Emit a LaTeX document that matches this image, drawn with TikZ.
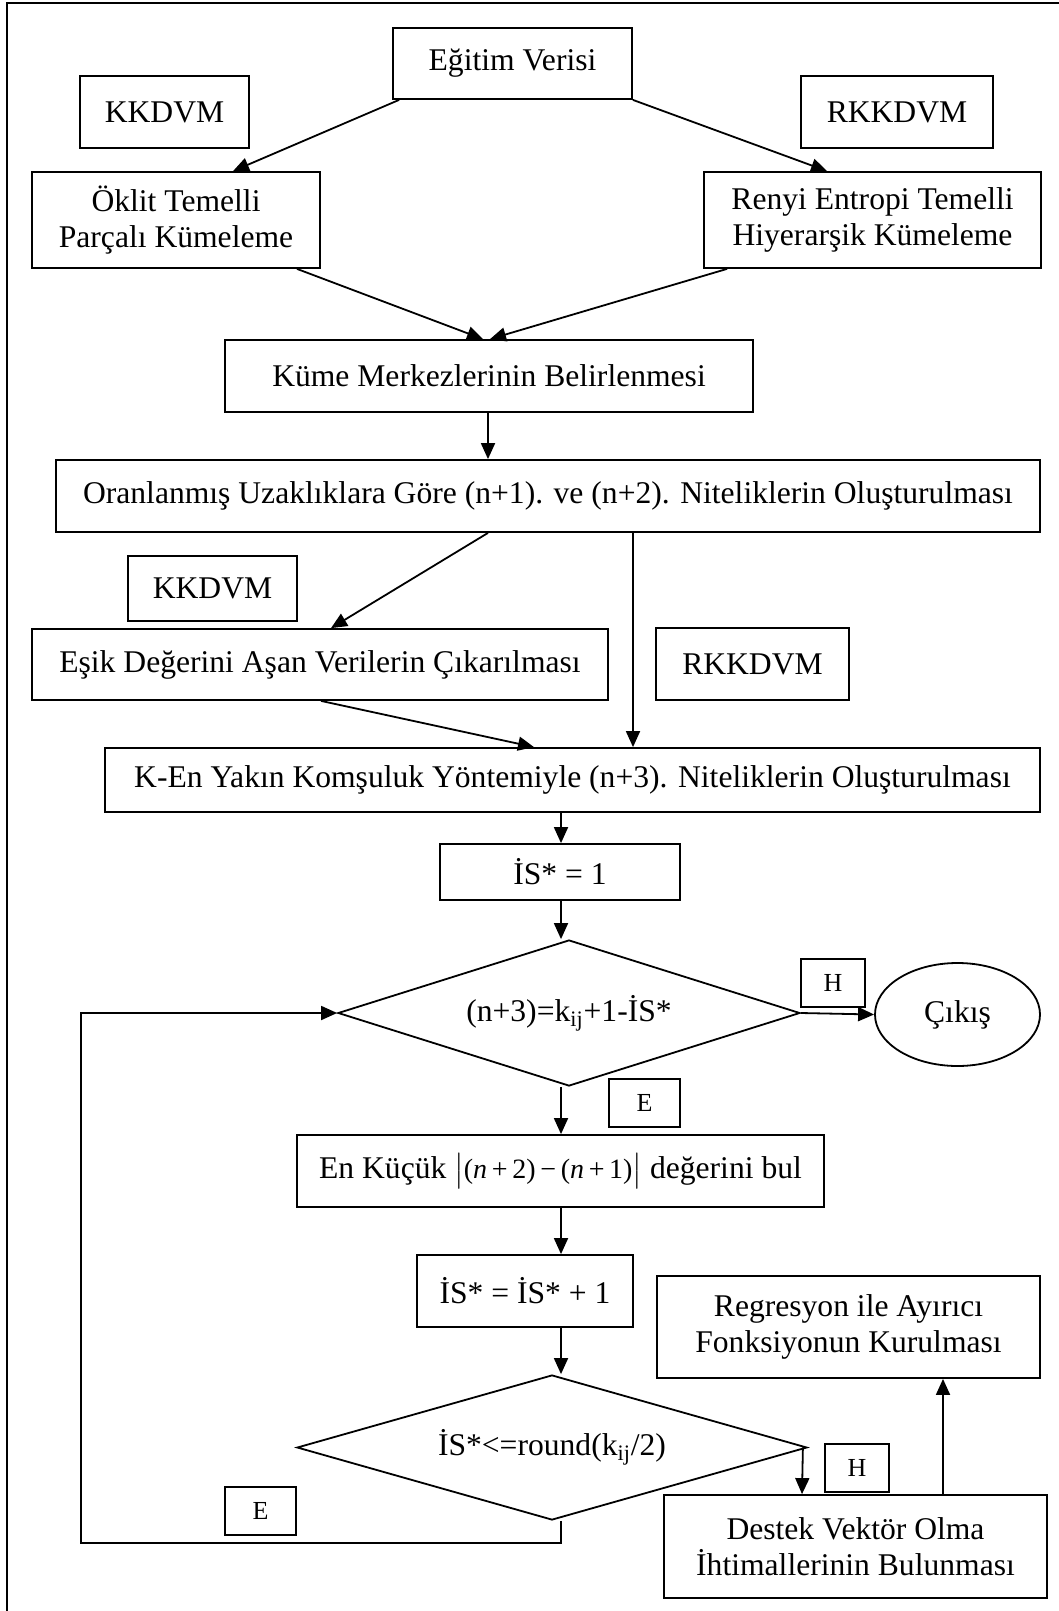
\documentclass[tikz,border=0pt]{standalone}
\usepackage{amsmath}
\usepackage{fontspec}
\setmainfont{Liberation Serif}
\usetikzlibrary{arrows.meta,calc,shapes.geometric}

\begin{document}
\begin{tikzpicture}[>={Triangle[length=8pt,width=7pt]},x=0.5pt,y=-0.5pt,line width=0.9pt,
  kutu/.style={draw,inner sep=0pt,align=center,font=\fontsize{15.8}{18}\selectfont},
  etiket/.style={draw,inner sep=0pt,font=\fontsize{13}{15}\selectfont,minimum width=32pt,minimum height=24pt},
  karar/.style={kutu,diamond,aspect=3.2}]
  \useasboundingbox (0,0) rectangle (1059,1611);
  \draw (7,1611) -- (7,3) -- (1059,3);
  \node[kutu,minimum width=119.5pt,minimum height=35.5pt] (egitim) at (512.5,63.5) {Eğitim Verisi};
  \node[kutu,minimum width=84.5pt,minimum height=36pt] (kk1) at (164.5,112) {KKDVM};
  \node[kutu,minimum width=96pt,minimum height=36pt] (rkk1) at (897,112) {RKKDVM};
  \node[kutu,minimum width=144pt,minimum height=48pt] (oklit) at (176,220) {Öklit Temelli\\Parçalı Kümeleme};
  \node[kutu,minimum width=168.5pt,minimum height=48pt] (renyi) at (872.5,220) {Renyi Entropi Temelli\\Hiyerarşik Kümeleme};
  \node[kutu,minimum width=264pt,minimum height=36pt] (kume) at (489,376) {Küme Merkezlerinin Belirlenmesi};
  \node[kutu,minimum width=492pt,minimum height=36pt] (oran) at (548,496) {Oranlanmış Uzaklıklara Göre (n+1). ve (n+2). Niteliklerin Oluşturulması};
  \node[kutu,minimum width=84.5pt,minimum height=32.5pt] (kk2) at (212.5,588.5) {KKDVM};
  \node[kutu,minimum width=288pt,minimum height=35.5pt] (esik) at (320,664.5) {Eşik Değerini Aşan Verilerin Çıkarılması};
  \node[kutu,minimum width=96.5pt,minimum height=36pt] (rkk2) at (752.5,664) {RKKDVM};
  \node[kutu,minimum width=467.5pt,minimum height=32pt] (ken) at (572.5,780) {K-En Yakın Komşuluk Yöntemiyle (n+3). Niteliklerin Oluşturulması};
  \node[kutu,minimum width=120pt,minimum height=28pt] (is1) at (560,872) {İS* = 1};
  \node[karar,minimum width=231pt,minimum height=73pt] (kosul1) at (569,1013) {(n+3)=k\textsubscript{ij}+1-İS*};
  \node[etiket] (h1) at (833,983) {H};
  \node[kutu,ellipse,minimum width=82.5pt,minimum height=51.5pt] (cikis) at (957.5,1014.5) {Çıkış};
  \node[etiket,minimum width=35.5pt] (e1) at (644.5,1103) {E};
  \node[kutu,minimum width=263.5pt,minimum height=36pt] (enk) at (560.5,1171) {En Küçük {$\bigl|$}{\fontsize{14}{16}\selectfont(\textit{n}\,+\,2)\,−\,(\textit{n}\,+\,1)}{$\bigr|$} değerini bul};
  \node[kutu,minimum width=108pt,minimum height=36pt] (is2) at (525,1291) {İS* = İS* + 1};
  \node[karar,minimum width=255pt,minimum height=72.5pt] (kosul2) at (552,1447.5) {İS*<=round(k\textsubscript{ij}/2)};
  \node[kutu,minimum width=191.5pt,minimum height=51pt] (reg) at (848.5,1327) {Regresyon ile Ayırıcı\\Fonksiyonun Kurulması};
  \node[etiket] (h2) at (857,1468) {H};
  \node[etiket,minimum width=35.5pt] (e2) at (260.5,1511) {E};
  \node[kutu,minimum width=191.5pt,minimum height=51.5pt] (destek) at (855.5,1546.5) {Destek Vektör Olma\\İhtimallerinin Bulunması};
  \coordinate (donus) at (81,1543);
  \draw[->] ($(egitim.south west)+(7,0)$) -- ($(oklit.north)+(57,0)$);
  \draw[->] (egitim.south east) -- ($(renyi.north)+(-45.5,0)$);
  \draw[->] ($(oklit.south)+(121,0)$) -- ($(kume.north)+(-6,0)$);
  \draw[->] ($(renyi.south)+(-145.5,0)$) -- ($(kume.north)+(1,0)$);
  \draw[->] ($(kume.south)+(-1,0)$) -- ($(oran.north)+(-60,0)$);
  \draw[->] ($(oran.south)+(-60,0)$) -- ($(esik.north)+(11,0)$);
  \draw[->] ($(oran.south)+(85,0)$) -- ($(ken.north)+(60.5,0)$);
  \draw[->] ($(esik.south)+(1,0)$) -- ($(ken.north)+(-38.5,0)$);
  \draw[->] ($(ken.south)+(-11.5,0)$) -- ($(is1.north)+(1,0)$);
  \draw[->] ($(is1.south)+(1,0)$) -- ($(kosul1.north)+(-8,0)$);
  \draw[->] (kosul1.east) -- (cikis.west);
  \draw[->] ($(kosul1.south)+(-8,0)$) -- ($(enk.north)+(0.5,0)$);
  \draw[->] ($(enk.south)+(0.5,0)$) -- ($(is2.north)+(36,0)$);
  \draw[->] ($(is2.south)+(36,0)$) -- ($(kosul2.north)+(9,0)$);
  \draw[->] ($(kosul2.south)+(9,0)$) |- (donus) |- (kosul1.west);
  \draw[->] ($(kosul2.east)+(-5,0)$) -- ($(destek.north)+(-53.5,0)$);
  \draw[->] ($(destek.north)+(87.5,0)$) -- ($(reg.south)+(94.5,0)$);
\end{tikzpicture}
\end{document}
